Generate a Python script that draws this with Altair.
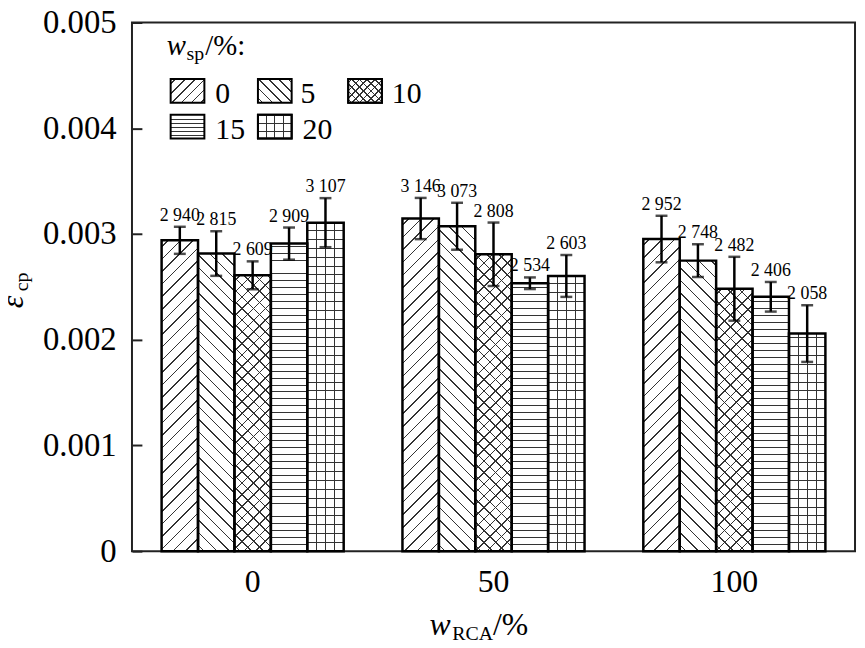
import math
import altair as alt
import pandas as pd

# ---------------- data ----------------
rca_levels = ["0", "50", "100"]          # w_RCA / %
sp_levels = ["0", "5", "10", "15", "20"]  # w_sp / %
eps_rca0 = [2940, 2815, 2609, 2909, 3107]     # x 1e-6
eps_rca50 = [3146, 3073, 2808, 2534, 2603]
eps_rca100 = [2952, 2748, 2482, 2406, 2058]
err_rca0 = [128, 211, 132, 152, 232]
err_rca50 = [195, 222, 300, 55, 198]
err_rca100 = [220, 155, 302, 140, 268]
y_ticks = [0, 0.001, 0.002, 0.003, 0.004, 0.005]

rows = []
for r, vals, errs in zip(rca_levels, [eps_rca0, eps_rca50, eps_rca100],
                         [err_rca0, err_rca50, err_rca100]):
    for s, v, e in zip(sp_levels, vals, errs):
        rows.append({
            "rca": r, "sp": s,
            "value": v * 1e-6, "lo": (v - e) * 1e-6, "hi": (v + e) * 1e-6,
            "label": f"{v // 1000} {v % 1000:03d}",
        })
df = pd.DataFrame(rows)

# ---------------- layout / style ----------------
OX, OY = 133, 20          # page position of plot origin (8px body margin + padding)
W, H = 729, 533
PI, PO = 0.244, 0.123
YMAX = 0.005
FONT = "Liberation Serif, Times New Roman, Times, serif"
LINE = "#333333"

step = W / (len(rca_levels) - PI + 2 * PO)
bar_w = (1 - PI) * step / len(sp_levels)


def grad(kind, w, h, spacing, bg, fg=LINE, lw=1.1):
    k = h / w
    if kind in ("fwd", "back"):
        c = (1 + k) / (1 + k * k)
        if kind == "fwd":
            x1, y1, x2, y2 = 0, 0, c, c * k
        else:
            x1, y1, x2, y2 = 0, 1, c, 1 - c * k
        L = (w + h) / math.sqrt(2)
        p = spacing / 2
    elif kind == "h":          # measured from the bottom edge, pixel aligned
        x1, y1, x2, y2 = 0, 1, 0, 0
        L = h
        lw = 1.0
        p = spacing - 0.5
    else:
        x1, y1, x2, y2 = 0, 0, 1, 0
        L = w
        lw = 1.0
        p = spacing
    tpp = 1.0 / L
    stops = [(0.0, bg)]
    while p < L - 0.8:
        a = max(0.0, (p - lw / 2) * tpp)
        b = min(1.0, (p + lw / 2) * tpp)
        stops += [(a, bg), (a, fg), (b, fg), (b, bg)]
        p += spacing
    stops.append((1.0, bg))
    return {"gradient": "linear", "x1": x1, "y1": y1, "x2": x2, "y2": y2,
            "stops": [{"offset": round(o, 6), "color": col} for o, col in stops]}


bar_patterns = {
    "0": [("fwd", 9.0)],
    "5": [("back", 9.0)],
    "10": [("fwd", 8.3), ("back", 8.3)],
    "15": [("h", 7.0)],
    "20": [("h", 9.0), ("v", None)],
}
legend_patterns = {
    "0": [("fwd", 7.0)],
    "5": [("back", 7.0)],
    "10": [("fwd", 5.5), ("back", 5.5)],
    "15": [("h", 4.0)],
    "20": [("h", 8.0), ("v", None)],
}


def X():
    return alt.X("rca:N", sort=rca_levels,
                 scale=alt.Scale(paddingInner=PI, paddingOuter=PO),
                 axis=alt.Axis(title=None, labelAngle=0, ticks=False, domain=False,
                               labelFontSize=32, labelPadding=16, labelColor="black",
                               labelFont=FONT))


def XO():
    return alt.XOffset("sp:N", sort=sp_levels,
                       scale=alt.Scale(paddingInner=0, paddingOuter=0))


def Y(field):
    return alt.Y(f"{field}:Q",
                 scale=alt.Scale(domain=[0, YMAX], nice=False, zero=True),
                 axis=alt.Axis(title=None, values=y_ticks,
                               labelExpr="datum.value == 0 ? '0' : format(datum.value, '.3f')",
                               offset=-10, tickSize=10, tickWidth=2, tickColor="#222",
                               domain=False, grid=False, labelPadding=16,
                               labelFontSize=33, labelFont=FONT, labelColor="black"))


base = alt.Chart(df)
layers = []

# hatched bars (one layer per bar and hatch direction)
for row in rows:
    h_px = row["value"] / YMAX * H
    for i, (kind, spc) in enumerate(bar_patterns[row["sp"]]):
        if spc is None:
            spc = bar_w / 4
        g = grad(kind, bar_w, h_px, spc, "white" if i == 0 else "rgba(255,255,255,0)")
        layers.append(
            base.transform_filter((alt.datum.rca == row["rca"]) & (alt.datum.sp == row["sp"]))
            .mark_bar(fill=g, strokeWidth=0)
            .encode(x=X(), xOffset=XO(), y=Y("value"))
        )

# bar outlines
layers.append(base.mark_bar(fillOpacity=0, stroke="black", strokeWidth=2.5)
              .encode(x=X(), xOffset=XO(), y=Y("value")))

# error bars
layers.append(base.mark_rule(color="black", strokeWidth=2.5)
              .encode(x=X(), xOffset=XO(), y=Y("lo"), y2=alt.Y2("hi:Q")))
layers.append(base.mark_tick(color="black", size=12, thickness=2.5)
              .encode(x=X(), xOffset=XO(), y=Y("hi")))
layers.append(base.mark_tick(color="black", size=12, thickness=2.5)
              .encode(x=X(), xOffset=XO(), y=Y("lo")))

# value labels
layers.append(base.mark_text(font=FONT, fontSize=18, dy=-6, baseline="alphabetic",
                             color="black")
              .encode(x=X(), xOffset=XO(), y=Y("hi"), text="label:N"))


def txt(s, px, py, size, italic=False, angle=None, align="left"):
    """Annotation text placed at page position (px, py)."""
    kw = dict(font=FONT, fontSize=size, align=align, baseline="alphabetic", color="black")
    if italic:
        kw["fontStyle"] = "italic"
    if angle is not None:
        kw["angle"] = angle
    return (alt.Chart(pd.DataFrame({"t": [s]})).mark_text(**kw)
            .encode(text="t:N", x=alt.value(px - OX), y=alt.value(py - OY)))


# axis titles
layers += [
    txt("w", 433, 638, 32, italic=True),
    txt("RCA", 456, 643, 20),
    txt("/%", 497, 638, 32),
    txt("ε", 23, 308, 32, italic=True, angle=270),
    txt("cp", 28, 291, 20, angle=270),
]

# legend
layers += [
    txt("w", 168, 53, 29, italic=True),
    txt("sp", 188, 57.5, 20),
    txt("/%:", 207, 53, 29),
]
SW, SH = 34, 24
legend_pos = {            # page coordinates of swatch top-left corners
    "0": (172, 77), "5": (260, 77), "10": (351, 77),
    "15": (172, 113), "20": (260, 113),
}
label_x = {"0": 217, "5": 303, "10": 395, "15": 217, "20": 305}
for s in sp_levels:
    px, py = legend_pos[s]
    x0, y0 = px - OX, py - OY
    for i, (kind, spc) in enumerate(legend_patterns[s]):
        if spc is None:
            spc = SW / 4
        g = grad(kind, SW, SH, spc, "white" if i == 0 else "rgba(255,255,255,0)")
        layers.append(
            alt.Chart(pd.DataFrame({"k": [s]})).mark_rect(fill=g, stroke="black", strokeWidth=2)
            .encode(x=alt.value(x0), x2=alt.value(x0 + SW),
                    y=alt.value(y0), y2=alt.value(y0 + SH))
        )
    layers.append(txt(s, label_x[s], py + SH, 30))

chart = (
    alt.layer(*layers)
    .properties(width=W, height=H,
                autosize=alt.AutoSizeParams(type="none"),
                padding={"left": OX - 8, "top": OY - 8, "right": 2, "bottom": 95},
                background="white")
    .configure_view(stroke="#222", strokeWidth=2)
)

chart.save("out.html", embed_options={"renderer": "svg", "actions": False})
